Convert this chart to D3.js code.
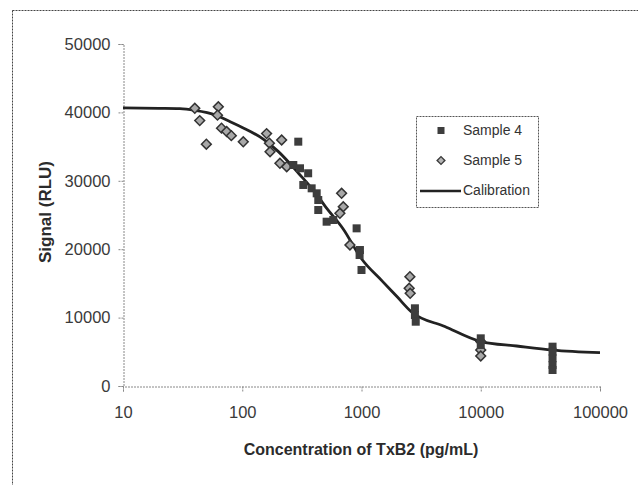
<!DOCTYPE html>
<html>
<head>
<meta charset="utf-8">
<script src="https://cdn.jsdelivr.net/npm/d3@7"></script>
<style>
  html, body { margin: 0; padding: 0; background: #fff; }
  svg { display: block; font-family: "Liberation Sans", Arial, sans-serif; }
</style>
</head>
<body>
<svg id="chart" width="638" height="485"></svg>
<script>
// Calibration curve: concentration (pg/mL) and signal (RLU)
const calibConc = [10, 20, 30, 40, 60, 80, 100, 150, 200, 300, 400, 500, 700, 1000, 1500, 2000, 2600, 5000, 10000, 20000, 40000, 100000];
const calibRLU  = [40650, 40600, 40550, 40300, 39600, 38600, 37800, 36100, 34300, 31000, 28500, 26200, 23000, 18600, 15300, 13000, 10900, 8700, 6500, 5850, 5250, 4870];

// Sample 4 measurements
const s4Conc = [295, 268, 305, 357, 325, 382, 421, 434, 434, 510, 580, 910, 964, 970, 1000, 2805, 2805, 2850, 10000, 10000, 40000, 40000, 40000, 40000, 40000];
const s4RLU  = [35720, 32310, 31830, 31100, 29390, 28900, 28170, 27190, 25730, 24020, 24270, 23050, 19150, 19880, 16960, 11360, 10380, 9400, 6970, 6000, 5750, 5020, 4050, 3070, 2340];

// Sample 5 measurements
const s5Conc = [40, 44, 50, 63, 62, 67, 74, 81, 102, 160, 169, 171, 214, 207, 236, 681, 703, 659, 800, 2546, 2510, 2560, 10000, 10000, 10000];
const s5RLU  = [40600, 38800, 35350, 40830, 39600, 37700, 37200, 36600, 35700, 36900, 35500, 34250, 35960, 32560, 32060, 28170, 26210, 25250, 20610, 15980, 14280, 13550, 6500, 5260, 4390];

// Axis tick values
const xTicks = [10, 100, 1000, 10000, 100000];
const yTicks = [0, 10000, 20000, 30000, 40000, 50000];

const svg = d3.select("#chart");
const ink = "#2b2b2b";

const x = d3.scaleLog().domain([10, 100000]).range([123, 600]);
const y = d3.scaleLinear().domain([0, 50000]).range([386, 44]);

// Outer frame (runs off the right and bottom edges)
svg.append("rect")
  .attr("x", 12.5).attr("y", 10.5)
  .attr("width", 700).attr("height", 600)
  .attr("fill", "none")
  .attr("stroke", "#444")
  .attr("stroke-width", 1)
  .attr("stroke-dasharray", "2,1");

// Y axis
const yAxis = d3.axisLeft(y).tickValues(yTicks).tickSize(5).tickFormat(d3.format("d"));
const gy = svg.append("g").attr("transform", "translate(123.5,0)").call(yAxis);
gy.select(".domain").attr("stroke", "#888").attr("stroke-dasharray", "2,1");
gy.selectAll(".tick line").attr("stroke", "#888").attr("stroke-dasharray", "2,1");
gy.selectAll(".tick text")
  .attr("x", -13)
  .attr("fill", "#3a3a3a")
  .attr("font-size", 16.5)
  .attr("font-family", "Liberation Sans, Arial, sans-serif");

// X axis
const xAxis = d3.axisBottom(x).tickValues(xTicks).tickSize(5).tickFormat(d3.format("d"));
const gx = svg.append("g").attr("transform", "translate(0,386.5)").call(xAxis);
gx.select(".domain").attr("stroke", "#888").attr("stroke-dasharray", "2,1");
gx.selectAll(".tick line").attr("stroke", "#888").attr("stroke-dasharray", "2,1");
gx.selectAll(".tick text")
  .attr("y", 20)
  .attr("fill", "#3a3a3a")
  .attr("font-size", 16.5)
  .attr("font-family", "Liberation Sans, Arial, sans-serif");

// Axis titles
svg.append("text")
  .attr("x", 361).attr("y", 455)
  .attr("text-anchor", "middle")
  .attr("font-size", 16)
  .attr("font-weight", "bold")
  .attr("fill", ink)
  .text("Concentration of TxB2 (pg/mL)");

svg.append("text")
  .attr("transform", "translate(51,212) rotate(-90)")
  .attr("text-anchor", "middle")
  .attr("font-size", 17)
  .attr("font-weight", "bold")
  .attr("fill", ink)
  .text("Signal (RLU)");

// Calibration curve
const calib = calibConc.map((c, i) => ({ c, v: calibRLU[i] }));
const line = d3.line().x(d => x(d.c)).y(d => y(d.v)).curve(d3.curveMonotoneX);
svg.append("path")
  .datum(calib)
  .attr("d", line)
  .attr("fill", "none")
  .attr("stroke", "#222")
  .attr("stroke-width", 2.8);

// Sample 5: diamonds
const s5 = s5Conc.map((c, i) => ({ c, v: s5RLU[i] }));
const diamond = d3.symbol().type(d3.symbolSquare).size(48);
svg.append("g").selectAll("path")
  .data(s5)
  .join("path")
  .attr("d", diamond)
  .attr("transform", d => `translate(${x(d.c)},${y(d.v)}) rotate(45)`)
  .attr("fill", "#a8a8a8")
  .attr("stroke", "#333")
  .attr("stroke-width", 1.5);

// Sample 4: squares
const s4 = s4Conc.map((c, i) => ({ c, v: s4RLU[i] }));
svg.append("g").selectAll("rect")
  .data(s4)
  .join("rect")
  .attr("x", d => x(d.c) - 4)
  .attr("y", d => y(d.v) - 4)
  .attr("width", 8).attr("height", 8)
  .attr("fill", "#3d3d3d");

// Legend
const lg = svg.append("g");
lg.append("rect")
  .attr("x", 416.5).attr("y", 116.5)
  .attr("width", 122).attr("height", 91)
  .attr("fill", "#fff")
  .attr("stroke", "#555")
  .attr("stroke-dasharray", "2,1");
lg.append("rect")
  .attr("x", 437.5).attr("y", 127).attr("width", 7).attr("height", 7)
  .attr("fill", "#3d3d3d");
lg.append("path")
  .attr("d", d3.symbol().type(d3.symbolSquare).size(30))
  .attr("transform", "translate(441,160.5) rotate(45)")
  .attr("fill", "#b5b5b5")
  .attr("stroke", "#3a3a3a")
  .attr("stroke-width", 1.4);
lg.append("line")
  .attr("x1", 420).attr("x2", 461)
  .attr("y1", 191).attr("y2", 191)
  .attr("stroke", "#222").attr("stroke-width", 2.6);
const legendLabels = ["Sample 4", "Sample 5", "Calibration"];
lg.selectAll("text.lbl")
  .data(legendLabels)
  .join("text")
  .attr("class", "lbl")
  .attr("x", 463)
  .attr("y", (d, i) => 135 + i * 30)
  .attr("font-size", 14)
  .attr("fill", "#333")
  .text(d => d);
</script>
</body>
</html>
